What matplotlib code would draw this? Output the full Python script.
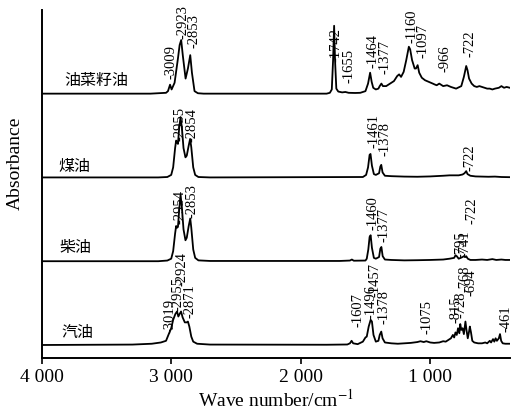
import matplotlib
matplotlib.use("Agg")
import matplotlib.pyplot as plt
from matplotlib.ticker import FixedLocator, FuncFormatter

plt.rcParams['font.family'] = ['Liberation Serif', 'DejaVu Serif']
plt.rcParams['mathtext.fontset'] = 'stix'

# ---- spectra: wave number (cm-1) and absorbance ----
rapeseed_wn = [4000, 3160, 3040, 3025, 3009, 2997, 2974, 2948, 2935, 2923, 2910, 2889,
               2871, 2853, 2840, 2820, 2794, 2750, 1800, 1775, 1760, 1750, 1742, 1735,
               1725, 1710, 1680, 1655, 1630, 1580, 1540, 1500, 1480, 1464, 1452, 1440,
               1420, 1400, 1390, 1377, 1365, 1340, 1310, 1280, 1255, 1240, 1225, 1205,
               1185, 1165, 1155, 1140, 1120, 1110, 1097, 1085, 1065, 1040, 1010, 980,
               966, 950, 930, 900, 870, 840, 800, 760, 740, 722, 712, 700, 680, 660,
               640, 620, 600, 580, 560, 540, 520, 500, 470, 450, 430, 410, 385]
rapeseed_ab = [0.0, 0.0, 0.01, 0.03, 0.107, 0.05, 0.13, 0.42, 0.58, 0.64, 0.45, 0.18,
               0.30, 0.46, 0.25, 0.03, 0.005, 0.0, 0.0, 0.01, 0.05, 0.40, 0.81, 0.40,
               0.06, 0.025, 0.015, 0.02, 0.01, 0.008, 0.01, 0.03, 0.12, 0.25, 0.14, 0.07,
               0.05, 0.06, 0.09, 0.12, 0.09, 0.09, 0.12, 0.15, 0.21, 0.23, 0.20, 0.26,
               0.40, 0.56, 0.53, 0.40, 0.30, 0.30, 0.34, 0.25, 0.19, 0.16, 0.14, 0.12,
               0.11, 0.10, 0.12, 0.09, 0.10, 0.08, 0.06, 0.09, 0.20, 0.33, 0.28, 0.18,
               0.12, 0.09, 0.08, 0.09, 0.08, 0.07, 0.06, 0.06, 0.05, 0.06, 0.07, 0.09,
               0.07, 0.08, 0.07]

kerosene_wn = [4000, 3100, 3030, 3000, 2985, 2970, 2962, 2955, 2948, 2938, 2928, 2918,
               2905, 2890, 2880, 2865, 2854, 2845, 2830, 2815, 2790, 2700, 1520, 1495,
               1480, 1468, 1461, 1450, 1435, 1420, 1395, 1385, 1378, 1368, 1350, 1300,
               1200, 1100, 1000, 900, 850, 780, 750, 735, 722, 712, 690, 650, 600, 550,
               500, 450, 385]
kerosene_ab = [0.0, 0.0, 0.005, 0.03, 0.12, 0.35, 0.44, 0.42, 0.40, 0.60, 0.72, 0.60,
               0.35, 0.24, 0.26, 0.38, 0.46, 0.36, 0.12, 0.03, 0.005, 0.0, 0.005, 0.03,
               0.12, 0.27, 0.28, 0.14, 0.04, 0.03, 0.05, 0.13, 0.15, 0.06, 0.02, 0.015,
               0.01, 0.008, 0.012, 0.02, 0.025, 0.025, 0.035, 0.05, 0.075, 0.04, 0.02,
               0.012, 0.01, 0.008, 0.01, 0.005, 0.003]

diesel_wn = [4000, 3100, 3030, 3000, 2985, 2970, 2962, 2954, 2948, 2938, 2928, 2918,
             2905, 2890, 2880, 2865, 2853, 2845, 2830, 2815, 2790, 2700, 1700, 1620,
             1605, 1590, 1500, 1490, 1478, 1468, 1460, 1450, 1435, 1420, 1395, 1385,
             1377, 1367, 1350, 1300, 1200, 1100, 1000, 900, 850, 815, 805, 795, 780,
             765, 750, 741, 730, 722, 710, 690, 650, 600, 560, 520, 490, 450, 420, 385]
diesel_ab = [0.0, 0.0, 0.008, 0.03, 0.12, 0.33, 0.42, 0.40, 0.41, 0.62, 0.79, 0.65,
             0.38, 0.25, 0.28, 0.42, 0.51, 0.40, 0.14, 0.04, 0.01, 0.003, 0.003, 0.008,
             0.02, 0.006, 0.008, 0.03, 0.14, 0.29, 0.31, 0.16, 0.04, 0.03, 0.05, 0.15,
             0.17, 0.06, 0.02, 0.015, 0.01, 0.012, 0.015, 0.02, 0.03, 0.04, 0.07, 0.06,
             0.03, 0.04, 0.05, 0.06, 0.05, 0.06, 0.03, 0.015, 0.015, 0.02, 0.015, 0.025,
             0.015, 0.02, 0.015, 0.015]

gasoline_wn = [4000, 3300, 3150, 3080, 3040, 3019, 3000, 2985, 2968, 2955, 2945, 2935,
               2924, 2912, 2895, 2880, 2871, 2860, 2845, 2830, 2800, 2700, 1800, 1640,
               1620, 1607, 1595, 1560, 1520, 1500, 1490, 1475, 1460, 1450, 1438, 1420,
               1400, 1390, 1378, 1368, 1350, 1300, 1250, 1200, 1150, 1100, 1075, 1050,
               1030, 1000, 970, 930, 900, 880, 860, 840, 825, 815, 805, 795, 785, 775,
               768, 760, 750, 740, 728, 720, 710, 700, 694, 685, 675, 660, 630, 600,
               575, 560, 540, 530, 515, 505, 495, 485, 470, 461, 452, 440, 420, 385]
gasoline_ab = [0.0, 0.005, 0.015, 0.03, 0.05, 0.13, 0.20, 0.30, 0.37, 0.40, 0.34, 0.37,
               0.40, 0.33, 0.27, 0.27, 0.28, 0.22, 0.10, 0.04, 0.015, 0.005, 0.003, 0.006,
               0.02, 0.05, 0.02, 0.01, 0.04, 0.09, 0.10, 0.22, 0.30, 0.28, 0.12, 0.04,
               0.05, 0.12, 0.16, 0.08, 0.03, 0.02, 0.015, 0.02, 0.025, 0.035, 0.045, 0.035,
               0.045, 0.03, 0.025, 0.03, 0.045, 0.04, 0.06, 0.08, 0.12, 0.09, 0.15, 0.12,
               0.20, 0.14, 0.25, 0.18, 0.20, 0.13, 0.28, 0.18, 0.08, 0.16, 0.22, 0.15,
               0.05, 0.03, 0.02, 0.02, 0.03, 0.02, 0.05, 0.03, 0.07, 0.04, 0.08, 0.05,
               0.08, 0.13, 0.05, 0.02, 0.015, 0.015]

names = ['油菜籽油', '煤油', '柴油', '汽油']

# peak annotations (value text)
rapeseed_peaks = ['3009', '2923', '2853', '1742', '1655', '1464', '1377', '1160', '1097', '966', '722']
kerosene_peaks = ['2955', '2854', '1461', '1378', '722']
diesel_peaks = ['2954', '2853', '1460', '1377', '795', '741', '722']
gasoline_peaks = ['3019', '2955', '2924', '2871', '1607', '1496', '1457', '1378',
                  '1075', '815', '728', '768', '694', '461']

# where the annotation text sits (x in cm-1, bottom y above the baseline)
rapeseed_lx = [3001, 2909, 2824, 1727, 1627, 1442, 1349, 1141, 1056, 886, 693]
rapeseed_ly = [0.17, 0.65, 0.55, 0.38, 0.13, 0.31, 0.23, 0.61, 0.43, 0.26, 0.44]
kerosene_lx = [2932, 2839, 1434, 1349, 693]
kerosene_ly = [0.44, 0.42, 0.35, 0.26, 0.08]
diesel_lx = [2932, 2839, 1442, 1357, 762, 731, 678]
diesel_ly = [0.45, 0.52, 0.37, 0.23, 0.04, 0.05, 0.45]
gasoline_lx = [3009, 2948, 2917, 2855, 1557, 1457, 1426, 1357, 1025, 801, 762, 731, 684, 415]
gasoline_ly = [0.14, 0.40, 0.71, 0.32, 0.21, 0.31, 0.57, 0.25, 0.13, 0.26, 0.32, 0.63, 0.58, 0.15]

spectra = [(rapeseed_wn, rapeseed_ab, rapeseed_peaks, rapeseed_lx, rapeseed_ly),
           (kerosene_wn, kerosene_ab, kerosene_peaks, kerosene_lx, kerosene_ly),
           (diesel_wn, diesel_ab, diesel_peaks, diesel_lx, diesel_ly),
           (gasoline_wn, gasoline_ab, gasoline_peaks, gasoline_lx, gasoline_ly)]
name_x = [3828, 3874, 3866, 3851]
name_y = [0.155, 0.13, 0.167, 0.155]

fig = plt.figure(figsize=(5.15, 4.11), dpi=100)
ax = fig.add_axes([0.081, 0.129, 0.909, 0.847])

for i, (wn, ab, peaks, lx, ly) in enumerate(spectra):
    offset = 3 - i
    ax.plot(wn, [a + offset for a in ab], color='black', lw=1.3)
    for txt, x, y in zip(peaks, lx, ly):
        ax.text(x, y + offset, '-' + txt, rotation=90, ha='center', va='bottom',
                fontsize=10.5, family='Liberation Serif')
    ax.text(name_x[i], name_y[i] + offset, names[i], ha='left', va='center',
            fontsize=11.5, family=['Noto Sans CJK SC', 'DejaVu Sans'])

ax.set_xlim(4000, 385)
ax.set_ylim(-0.155, 4.0)

for s in ['top', 'right']:
    ax.spines[s].set_visible(False)
for s in ['left', 'bottom']:
    ax.spines[s].set_linewidth(1.4)

ax.xaxis.set_major_locator(FixedLocator([4000, 3000, 2000, 1000]))
ax.xaxis.set_major_formatter(FuncFormatter(lambda v, p: f"{int(v):,}".replace(",", " ")))
ax.tick_params(axis='x', direction='out', length=4, width=1.2, labelsize=14, pad=4)
ax.set_yticks([])

ax.set_xlabel('Wave number/cm$^{-1}$', fontsize=14, labelpad=2)
ax.set_ylabel('Absorbance', fontsize=14)
ax.yaxis.set_label_coords(-0.038, 0.56)

fig.savefig('out.png', dpi=100)
